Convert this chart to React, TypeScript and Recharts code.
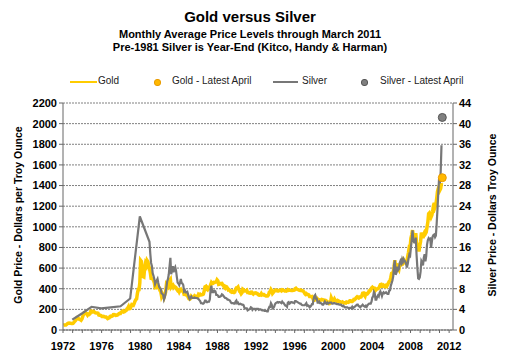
import {
  ComposedChart,
  Line,
  XAxis,
  YAxis,
  CartesianGrid,
  ReferenceDot,
} from 'recharts';

// gold, monthly average, Jan 1972 .. Mar 2011 ($/oz)
const gold1970s = [
  46, 48, 48, 49, 54, 62, 66, 67, 65, 65, 63, 64,
  65, 74, 84, 91, 102, 120, 120, 107, 103, 100, 94, 106,
  130, 151, 168, 172, 163, 154, 143, 154, 151, 158, 181, 183,
  176, 180, 178, 170, 167, 164, 165, 163, 144, 142, 142, 139,
  131, 131, 133, 128, 127, 126, 118, 110, 114, 117, 131, 134,
  132, 136, 148, 149, 147, 141, 143, 145, 149, 158, 162, 161,
  173, 179, 184, 175, 177, 184, 188, 206, 212, 227, 206, 208,
  227, 246, 242, 239, 257, 279, 294, 301, 355, 392, 392, 456,
];
const gold1980s = [
  675, 665, 553, 517, 513, 600, 644, 627, 673, 661, 623, 594,
  557, 500, 498, 495, 480, 460, 409, 410, 444, 437, 413, 410,
  384, 374, 330, 350, 334, 315, 339, 364, 435, 422, 415, 444,
  481, 491, 420, 432, 437, 413, 422, 416, 411, 393, 382, 388,
  370, 386, 394, 381, 377, 378, 347, 348, 341, 340, 341, 320,
  303, 299, 304, 325, 316, 317, 318, 330, 323, 326, 325, 322,
  345, 339, 346, 340, 342, 343, 348, 376, 418, 423, 397, 391,
  408, 401, 408, 438, 460, 450, 451, 461, 460, 465, 467, 486,
  477, 442, 444, 452, 451, 452, 437, 433, 413, 406, 421, 418,
  404, 388, 390, 384, 371, 367, 375, 365, 362, 367, 394, 409,
];
const gold1990s = [
  410, 417, 393, 374, 369, 352, 362, 395, 389, 380, 381, 378,
  384, 363, 363, 358, 357, 367, 368, 356, 349, 358, 360, 361,
  354, 354, 345, 338, 337, 340, 353, 340, 345, 344, 335, 334,
  329, 329, 330, 342, 367, 372, 392, 380, 355, 364, 374, 383,
  387, 382, 384, 378, 381, 386, 385, 380, 391, 389, 384, 379,
  379, 377, 382, 391, 385, 387, 386, 383, 383, 383, 386, 387,
  400, 405, 396, 393, 392, 385, 383, 387, 383, 381, 378, 369,
  355, 346, 352, 344, 344, 341, 324, 324, 323, 325, 306, 289,
  289, 297, 296, 308, 299, 292, 293, 284, 289, 296, 294, 291,
  287, 288, 286, 282, 277, 262, 256, 257, 265, 311, 293, 283,
];
const gold2000s = [
  284, 300, 286, 280, 275, 286, 282, 274, 273, 270, 266, 272,
  266, 262, 263, 261, 272, 270, 268, 273, 283, 283, 276, 276,
  282, 296, 294, 302, 314, 321, 314, 310, 319, 317, 319, 333,
  357, 359, 340, 328, 355, 356, 351, 360, 379, 379, 389, 407,
  414, 405, 406, 404, 384, 392, 398, 400, 406, 420, 439, 442,
  424, 423, 434, 429, 422, 431, 424, 438, 456, 470, 476, 510,
  549, 555, 557, 610, 676, 596, 633, 632, 598, 585, 627, 629,
  631, 664, 654, 679, 667, 655, 665, 665, 712, 754, 806, 803,
  889, 922, 968, 909, 888, 889, 939, 839, 830, 806, 760, 816,
  858, 943, 924, 890, 928, 946, 934, 949, 996, 1043, 1127, 1135,
];
const gold2010s = [
  1118, 1095, 1113, 1148, 1205, 1232, 1193, 1215, 1271, 1342, 1370, 1391,
  1356, 1372, 1424,
];

// silver, year-end 1972 .. 1980 ($/oz)
const silverYearEnd = [2.0, 3.2, 4.5, 4.2, 4.4, 4.6, 6.1, 22.0, 17.1];

// silver, monthly average, Jan 1981 .. Mar 2011 ($/oz)
const silver1980s = [
  14.8, 13.0, 12.4, 11.0, 10.5, 9.9, 8.9, 9.3, 9.6, 9.9, 9.1, 8.4,
  8.1, 8.0, 7.1, 7.0, 6.8, 5.9, 6.3, 7.1, 8.2, 9.4, 9.9, 10.8,
  12.4, 14.0, 10.8, 11.6, 12.4, 11.2, 11.9, 12.2, 11.5, 10.3, 9.2, 9.0,
  8.7, 9.2, 9.9, 9.1, 9.0, 8.7, 7.5, 7.7, 7.3, 7.3, 7.4, 6.9,
  6.3, 6.0, 6.3, 6.5, 6.2, 6.2, 6.2, 6.3, 6.2, 6.2, 6.2, 6.1,
  6.0, 5.8, 5.6, 5.2, 5.2, 5.1, 5.1, 5.3, 5.7, 5.7, 5.4, 5.4,
  5.5, 5.5, 5.9, 7.8, 8.6, 7.2, 7.6, 7.4, 7.6, 7.5, 6.8, 6.8,
  6.7, 6.4, 6.4, 6.5, 6.6, 6.9, 6.8, 6.6, 6.4, 6.2, 6.2, 6.1,
  5.9, 5.9, 5.8, 5.7, 5.4, 5.2, 5.2, 5.2, 5.1, 5.1, 5.5, 5.7,
];
const silver1990s = [
  5.2, 5.3, 5.0, 5.0, 5.1, 5.0, 4.9, 4.9, 4.8, 4.3, 4.2, 4.2,
  4.2, 3.8, 3.9, 4.0, 4.1, 4.4, 4.3, 3.9, 4.1, 4.1, 4.1, 3.9,
  4.1, 4.1, 4.1, 3.9, 4.0, 4.0, 3.9, 3.8, 3.8, 3.8, 3.7, 3.7,
  3.7, 3.6, 3.6, 4.1, 4.5, 4.5, 5.2, 4.9, 4.2, 4.3, 4.5, 5.0,
  5.2, 5.3, 5.4, 5.3, 5.4, 5.4, 5.3, 5.2, 5.5, 5.3, 5.2, 4.9,
  4.7, 4.7, 4.5, 5.3, 5.4, 5.1, 5.2, 5.4, 5.4, 5.3, 5.3, 5.2,
  5.6, 5.6, 5.5, 5.4, 5.3, 5.2, 5.1, 5.1, 4.9, 4.8, 4.8, 4.8,
  4.8, 5.0, 5.2, 4.7, 4.8, 4.7, 4.4, 4.5, 4.7, 5.0, 5.0, 6.0,
  6.6, 6.8, 6.1, 6.1, 5.3, 5.3, 5.5, 5.2, 5.2, 5.1, 4.9, 4.9,
  5.2, 5.5, 5.2, 5.1, 5.3, 5.1, 5.2, 5.3, 5.3, 5.3, 5.1, 5.1,
];
const silver2000s = [
  5.2, 5.2, 5.1, 5.1, 5.0, 5.0, 5.0, 4.9, 4.9, 4.9, 4.7, 4.6,
  4.7, 4.5, 4.4, 4.4, 4.4, 4.4, 4.3, 4.2, 4.3, 4.3, 4.2, 4.5,
  4.2, 4.4, 4.5, 4.6, 4.8, 4.9, 4.9, 4.6, 4.6, 4.4, 4.6, 4.7,
  4.9, 4.7, 4.6, 4.5, 4.7, 4.5, 4.8, 5.0, 5.1, 5.1, 5.1, 5.5,
  6.3, 6.5, 7.4, 7.1, 5.9, 5.9, 6.4, 6.7, 6.5, 7.2, 7.5, 7.1,
  6.6, 7.1, 7.3, 7.1, 7.2, 7.3, 7.1, 7.0, 7.0, 7.6, 7.7, 8.6,
  9.1, 9.6, 10.4, 12.6, 13.5, 10.7, 11.1, 12.3, 11.6, 11.8, 13.0, 13.4,
  13.0, 13.7, 13.2, 13.7, 13.3, 13.3, 12.8, 12.1, 12.8, 13.8, 14.6, 14.4,
  16.0, 17.6, 19.3, 17.3, 17.0, 17.0, 17.9, 14.6, 12.1, 10.0, 9.9, 10.2,
  11.3, 13.4, 13.1, 12.5, 14.0, 14.7, 13.3, 14.3, 16.5, 17.4, 17.8, 17.6,
];
const silver2010s = [
  17.7, 15.9, 17.1, 18.1, 18.4, 18.5, 18.0, 18.3, 20.6, 23.4, 26.5, 29.4,
  28.4, 30.7, 35.8,
];

// latest april readings
const goldApril = 1476;
const silverApril = 41.2;
const aprilX = 2011 + 3.5 / 12;

const goldTicks = [0, 200, 400, 600, 800, 1000, 1200, 1400, 1600, 1800, 2000, 2200];
const silverTicks = [0, 4, 8, 12, 16, 20, 24, 28, 32, 36, 40, 44];
const yearTicks = Array.from({ length: 41 }, (_, i) => 1972 + i);

const monthly = (start: number, vals: number[]) =>
  vals.map((v, i) => ({ x: start + (i + 0.5) / 12, v }));

const goldData = monthly(1972, [
  ...gold1970s,
  ...gold1980s,
  ...gold1990s,
  ...gold2000s,
  ...gold2010s,
]);
const silverData = [
  ...silverYearEnd.map((v, i) => ({ x: 1972 + i + 11.5 / 12, v })),
  ...monthly(1981, [...silver1980s, ...silver1990s, ...silver2000s, ...silver2010s]),
];

const GOLD = '#FFCC00';
const SILVER = '#777777';
const FONT = '"Liberation Sans", Arial, sans-serif';
const tickStyle = { fontSize: 11, fontWeight: 'bold', fill: '#000', fontFamily: FONT };

const LegendRow = () => (
  <div style={{ position: 'absolute', top: 75, left: 0, width: 508, height: 14, fontSize: 10, fontFamily: FONT, color: '#222' }}>
    <div style={{ position: 'absolute', left: 70, top: 6, width: 27, height: 2, background: GOLD }} />
    <span style={{ position: 'absolute', left: 98, top: 0 }}>Gold</span>
    <div style={{ position: 'absolute', left: 154, top: 4, width: 5, height: 5, borderRadius: 3, background: '#FFB800', border: '1px solid #e89a00' }} />
    <span style={{ position: 'absolute', left: 172, top: 0 }}>Gold - Latest April</span>
    <div style={{ position: 'absolute', left: 273, top: 6, width: 25, height: 2, background: SILVER }} />
    <span style={{ position: 'absolute', left: 302, top: 0 }}>Silver</span>
    <div style={{ position: 'absolute', left: 361, top: 4, width: 5, height: 5, borderRadius: 3, background: '#808080', border: '1px solid #555' }} />
    <span style={{ position: 'absolute', left: 380, top: 0 }}>Silver - Latest April</span>
  </div>
);

const sideLabel = (text: string, cx: number) => (
  <div
    style={{
      position: 'absolute',
      left: cx - 110,
      top: 216 - 7,
      width: 220,
      textAlign: 'center',
      fontSize: 10.5,
      fontWeight: 'bold',
      fontFamily: FONT,
      transform: 'rotate(-90deg)',
      whiteSpace: 'nowrap',
    }}
  >
    {text}
  </div>
);

export default function App() {
  return (
    <div style={{ position: 'relative', width: 508, height: 360, background: '#fff', fontFamily: FONT }}>
      <style>{'body{margin:0}'}</style>
      <div style={{ position: 'absolute', top: 8, left: 0, width: 500, textAlign: 'center', fontSize: 15, fontWeight: 'bold' }}>
        Gold versus Silver
      </div>
      <div style={{ position: 'absolute', top: 28, left: 0, width: 500, textAlign: 'center', fontSize: 11, fontWeight: 'bold', lineHeight: '13px' }}>
        Monthly Average Price Levels through March 2011
        <br />
        Pre-1981 Silver is Year-End (Kitco, Handy &amp; Harman)
      </div>
      <LegendRow />
      {sideLabel('Gold Price - Dollars per Troy Ounce', 18)}
      {sideLabel('Silver Price - Dollars Troy Ounce', 492)}
      <div style={{ position: 'absolute', top: 0, left: 0 }}>
        <ComposedChart width={508} height={360} margin={{ top: 103, right: 15, bottom: 0, left: 18 }}>
          <CartesianGrid vertical={false} yAxisId="left" stroke="#808080" strokeDasharray="2 1" />
          <XAxis
            type="number"
            dataKey="x"
            domain={[1972, 2012.4]}
            ticks={yearTicks}
            interval={0}
            tickFormatter={(y: number) => (y % 4 === 0 ? String(y) : '')}
            tick={tickStyle}
            tickSize={3}
            tickMargin={9}
            height={30}
            stroke="#666"
          />
          <YAxis
            yAxisId="left"
            domain={[0, 2200]}
            ticks={goldTicks}
            interval={0}
            tick={tickStyle}
            tickSize={4}
            width={45}
            stroke="#666"
          />
          <YAxis
            yAxisId="right"
            orientation="right"
            domain={[0, 44]}
            ticks={silverTicks}
            interval={0}
            tick={tickStyle}
            tickSize={4}
            width={40}
            stroke="#666"
          />
          <Line
            yAxisId="left"
            data={goldData}
            dataKey="v"
            stroke={GOLD}
            strokeWidth={3.5}
            dot={false}
            isAnimationActive={false}
          />
          <Line
            yAxisId="right"
            data={silverData}
            dataKey="v"
            stroke={SILVER}
            strokeWidth={2.2}
            dot={false}
            isAnimationActive={false}
          />
          <ReferenceDot yAxisId="left" x={aprilX} y={goldApril} r={4} fill="#FFB800" stroke="#e89a00" />
          <ReferenceDot yAxisId="right" x={aprilX} y={silverApril} r={4} fill="#808080" stroke="#555" />
        </ComposedChart>
      </div>
    </div>
  );
}
